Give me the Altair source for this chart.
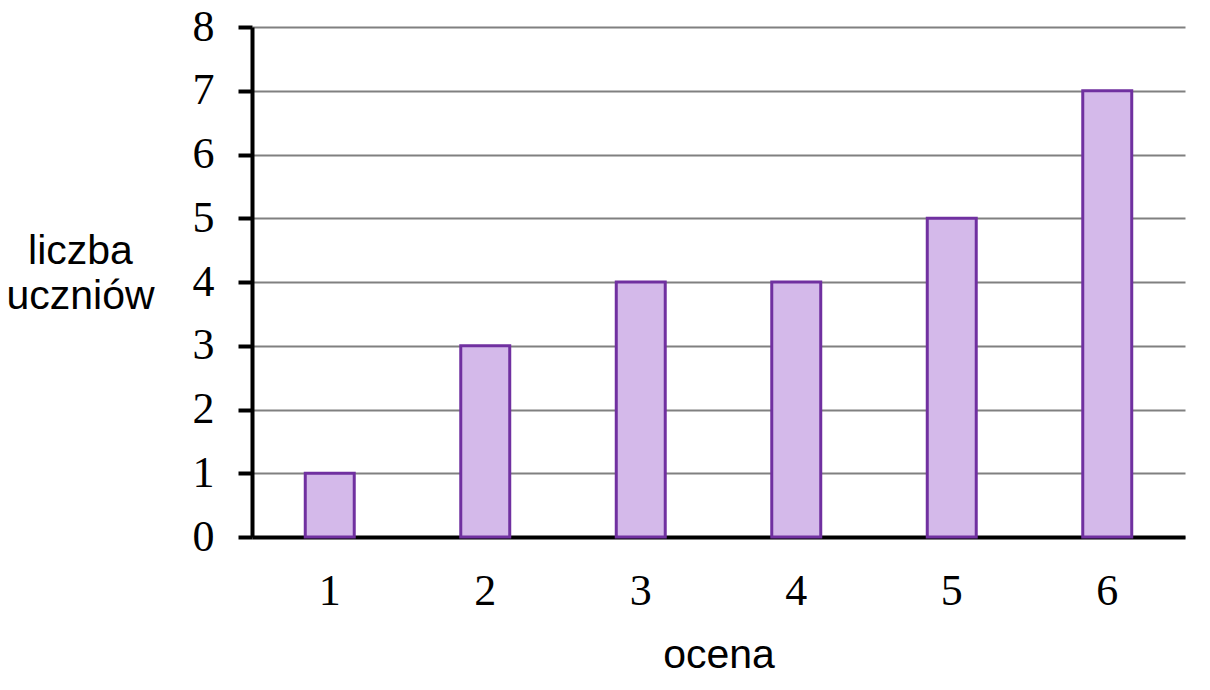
import altair as alt
import pandas as pd

grades = ["1", "2", "3", "4", "5", "6"]
counts = [1, 3, 4, 4, 5, 7]
y_ticks = [0, 1, 2, 3, 4, 5, 6, 7, 8]

df = pd.DataFrame({"ocena": grades, "liczba": counts})

chart = alt.Chart(df).mark_bar(
    fill="#D4B9EA", stroke="#7030A0", strokeWidth=3
).encode(
    x=alt.X("ocena:N", sort=grades,
            scale=alt.Scale(paddingInner=0.685, paddingOuter=0.3425),
            axis=alt.Axis(title="ocena", labelAngle=0, ticks=False,
                          domainColor="black", domainWidth=4,
                          labelFont="Liberation Serif", labelFontSize=44,
                          labelColor="black", labelPadding=32,
                          titleFont="Liberation Sans", titleFontSize=41,
                          titleFontWeight="normal", titleColor="black",
                          titleBaseline="alphabetic", titleY=130)),
    y=alt.Y("liczba:Q", scale=alt.Scale(domain=[0, 8], nice=False),
            axis=alt.Axis(title=["liczba", "uczniów"], values=y_ticks,
                          titleAngle=0, titleAlign="center",
                          titleBaseline="middle", titleX=-172, titleY=224,
                          titleLineHeight=45,
                          titleFont="Liberation Sans", titleFontSize=41,
                          titleFontWeight="normal", titleColor="black",
                          domainColor="black", domainWidth=4,
                          tickColor="black", tickWidth=4, tickSize=14,
                          labelFont="Liberation Serif", labelFontSize=44,
                          labelColor="black", labelPadding=24,
                          grid=True, gridColor="#808080", gridWidth=2)),
).properties(
    width=933, height=510,
    padding={"left": 244, "top": 19, "right": 15, "bottom": 140},
    autosize=alt.AutoSizeParams(type="none")
).configure_view(stroke=None)

chart.save("out.html", embed_options={"renderer": "svg", "actions": False})
